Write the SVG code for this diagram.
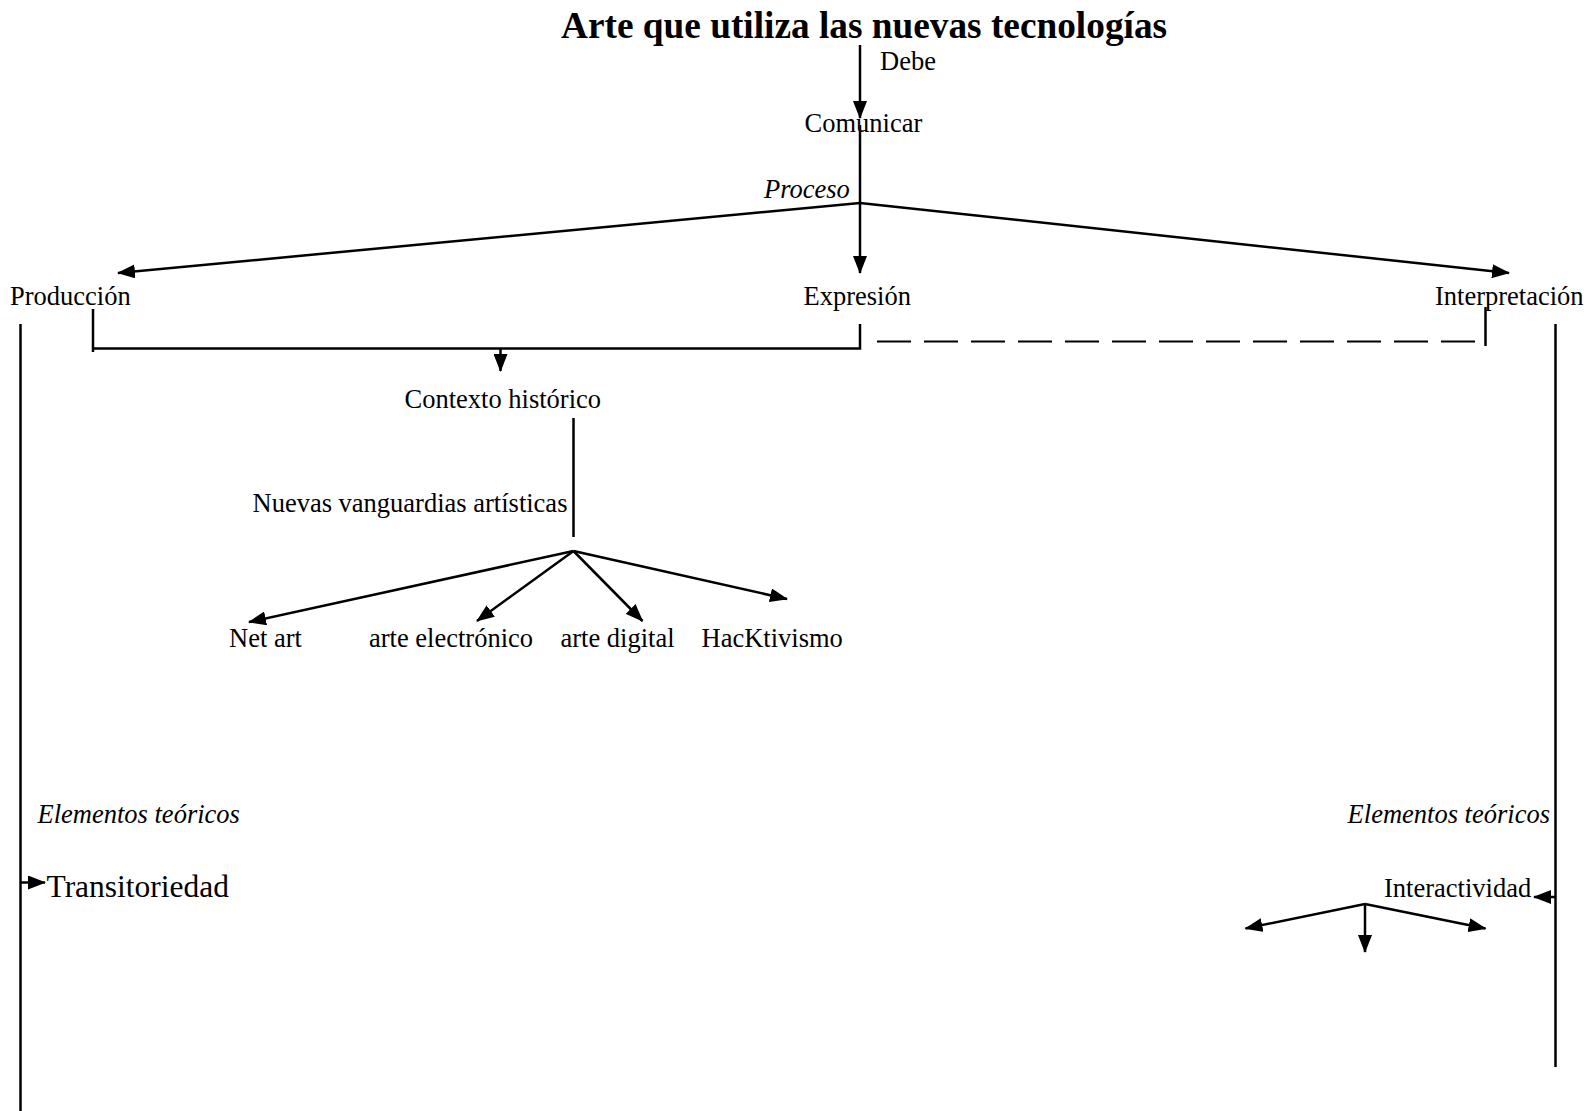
<svg xmlns="http://www.w3.org/2000/svg" width="1589" height="1111" viewBox="0 0 1589 1111">
<style>
text{font-family:"Liberation Serif","Times New Roman",serif;fill:#000;font-size:26.5px}
.title{font-weight:bold;font-size:37.3px}
.it{font-style:italic}
.big{font-size:31.5px}
.ln{stroke:#000;stroke-width:2.5;fill:none}
.ar{stroke:#000;stroke-width:2.5;fill:none;marker-end:url(#ah)}
.dash{stroke:#000;stroke-width:2;fill:none;stroke-dasharray:34 13}
</style>
<defs>
<marker id="ah" markerUnits="userSpaceOnUse" markerWidth="18" markerHeight="14" refX="17" refY="7" orient="auto">
<path d="M0,0 L18,7 L0,14 z" fill="#000"/>
</marker>
</defs>
<rect width="1589" height="1111" fill="#fff"/>
<g id="connectors">
<line class="ar" x1="860" y1="45" x2="860" y2="118"/>
<line class="ln" x1="860" y1="125" x2="860" y2="203"/>
<line class="ar" x1="860" y1="203" x2="860" y2="273"/>
<line class="ar" x1="860" y1="203" x2="118" y2="273"/>
<line class="ar" x1="860" y1="203" x2="1509" y2="273"/>
<polyline class="ln" points="93,309 93,352"/>
<polyline class="ln" points="93,348.5 860,348.5 860,324"/>
<line class="ar" x1="500.5" y1="348.5" x2="500.5" y2="371"/>
<line class="dash" x1="877" y1="341.5" x2="1485" y2="341.5"/>
<line class="ln" x1="1485.5" y1="307" x2="1485.5" y2="346"/>
<line class="ln" x1="573.5" y1="418" x2="573.5" y2="537"/>
<line class="ar" x1="573.5" y1="551" x2="249" y2="622"/>
<line class="ar" x1="573.5" y1="551" x2="477" y2="621"/>
<line class="ar" x1="573.5" y1="551" x2="642.5" y2="621"/>
<line class="ar" x1="573.5" y1="551" x2="787" y2="599"/>
<line class="ln" x1="20.5" y1="324" x2="20.5" y2="1111"/>
<line class="ln" x1="1555.5" y1="324" x2="1555.5" y2="1067"/>
<line class="ar" x1="20.5" y1="882.5" x2="45" y2="882.5"/>
<line class="ar" x1="1555.5" y1="897" x2="1534" y2="897"/>
<line class="ar" x1="1365" y1="904" x2="1245.5" y2="928.5"/>
<line class="ar" x1="1365" y1="904" x2="1365" y2="952"/>
<line class="ar" x1="1365" y1="904" x2="1485.5" y2="928.5"/>
</g>
<g id="title"><text class="title" x="561" y="37.5">Arte que utiliza las nuevas tecnologías</text></g>
<g id="debe"><text x="880" y="70">Debe</text></g>
<g id="comunicar"><text x="804.5" y="132">Comunicar</text></g>
<g id="proceso"><text class="it" x="764" y="197.5">Proceso</text></g>
<g id="produccion"><text x="10" y="304.5">Producción</text></g>
<g id="expresion"><text x="803.5" y="304.5">Expresión</text></g>
<g id="interpretacion"><text x="1435" y="304.5">Interpretación</text></g>
<g id="contexto"><text x="404.5" y="407.5">Contexto histórico</text></g>
<g id="nuevas"><text x="252.5" y="511.5">Nuevas vanguardias artísticas</text></g>
<g id="netart"><text x="229" y="646.5">Net art</text></g>
<g id="electronico"><text x="369" y="646.5">arte electrónico</text></g>
<g id="digital"><text x="560.5" y="646.5">arte digital</text></g>
<g id="hacktivismo"><text x="701.5" y="646.5">HacKtivismo</text></g>
<g id="elementos-izq"><text class="it" x="37.5" y="822.5">Elementos teóricos</text></g>
<g id="elementos-der"><text class="it" x="1550" y="822.5" text-anchor="end">Elementos teóricos</text></g>
<g id="transitoriedad"><text class="big" x="46.5" y="896.5">Transitoriedad</text></g>
<g id="interactividad"><text x="1384" y="896.5">Interactividad</text></g>
</svg>
